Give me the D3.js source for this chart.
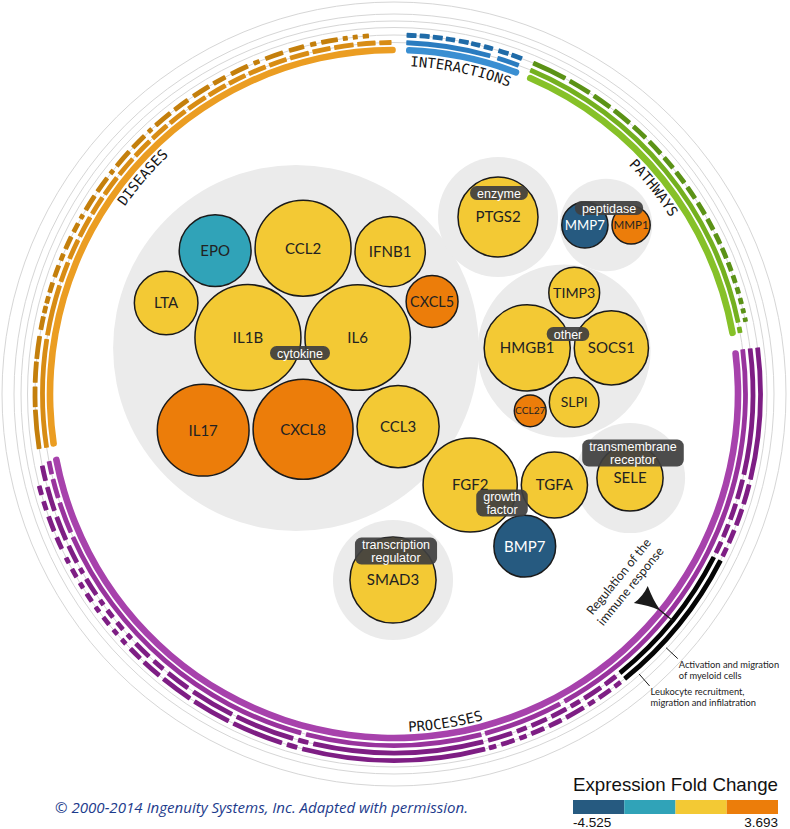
<!DOCTYPE html>
<html>
<head>
<meta charset="utf-8">
<title>Ingenuity overview</title>
<script src="https://cdn.jsdelivr.net/npm/d3@7"></script>
<style>
  body { margin: 0; background: #fff; }
  svg { display: block; }
</style>
</head>
<body>
<svg id="chart" width="790" height="829"></svg>
<script>
// categories round the ring, span in degrees clockwise from 12 o'clock
const categories = ["INTERACTIONS", "PATHWAYS", "PROCESSES", "DISEASES"];
const categorySpan = [[2, 21.3], [22.8, 80.3], [82.7, 259.5], [261.2, 360.3]];

// one list of [start, end] segments per track, innermost track first
const interactionTracks = [
    [[2, 21.3]],
    [[2, 15.9], [17.1, 20.8]],
    [[2, 3.6], [4.1, 5.7], [6.2, 7.8], [8.3, 9.8], [10.4, 12], [12.4, 13.9], [14.5, 16], [16.9, 18.6], [19.1, 20.9]]
];
const pathwayTracks = [
    [[22.8, 80.3]],
    [[22.8, 78.3], [79, 80]],
    [[22.8, 28.5], [29.3, 33], [33.8, 37], [37.8, 41], [41.8, 44.5], [45.3, 48], [48.8, 51], [51.8, 54], [54.8, 57],
     [57.8, 60], [60.8, 62.8], [63.5, 65.3], [66, 67.8], [68.5, 70], [70.7, 72], [72.7, 73.8], [74.5, 75.5], [76.2, 77], [77.7, 78.4]]
];
const processTracks = [
    [[82.7, 259.5]],
    [[82.7, 151], [151.8, 165], [165.6, 194.5], [195.3, 246], [246.8, 252], [252.8, 256], [256.8, 259]],
    [[82.7, 103], [103.8, 107], [107.8, 110.5], [111.3, 113.5], [114.3, 116.3], [141.8, 144], [144.8, 148], [148.8, 150.5],
     [151.3, 154], [154.8, 157.5], [158.3, 160], [160.8, 164.8], [165.6, 193], [193.8, 195.5], [196.3, 206], [206.8, 214],
     [215, 219], [220, 222], [223, 226], [227, 228], [229, 230.5], [231.5, 233], [234, 235], [236, 239], [240, 241],
     [242, 245], [246, 250], [251, 255], [256, 258.5]],
    [[82.7, 103.5], [104.3, 107.5], [108.3, 111], [111.8, 114], [114.8, 116.3], [141.8, 143], [143.8, 146], [146.8, 148],
     [148.8, 152], [152.8, 155], [155.8, 158], [158.8, 160], [160.8, 163], [163.8, 165], [165.6, 194.5], [195.3, 197],
     [197.8, 206], [206.8, 213], [213.8, 219], [219.8, 223], [223.8, 226], [227, 228], [229, 230], [231, 232.5],
     [233.5, 234.5], [235.5, 237], [238, 239], [240, 241.5], [242.5, 243.5], [245, 247], [248, 250.5], [251.5, 253], [254, 255.5]]
];
const diseaseTracks = [
    [[261.2, 360.3]],
    [[261.2, 279], [279.6, 288], [288.6, 292], [292.6, 296], [296.6, 300.2], [300.8, 304], [304.6, 308], [308.6, 312],
     [312.6, 316], [316.6, 319.8], [320.4, 323.6], [324.2, 327.6], [328.2, 331.4], [332, 335], [335.6, 338.6],
     [339.2, 342.2], [342.8, 346], [346.6, 349.6], [350.2, 353.4], [354, 357], [357.6, 359.6]],
    [[261.2, 267.5], [267.9, 271.2], [271.8, 275.2], [275.6, 279.3], [280.3, 282.5], [283, 284.2], [284.6, 285.8],
     [286.4, 288.1], [289, 291], [291.8, 293], [293.8, 296], [296.8, 298.4], [299.2, 300], [300.8, 303.5], [304.3, 307],
     [307.8, 308.6], [309.4, 312.5], [313.3, 316], [316.8, 317.6], [318.4, 321.5], [322.3, 325], [326, 329], [329.8, 332],
     [333, 336], [337, 338], [339, 342], [343, 345.5], [346.5, 347.5], [348.3, 351], [351.8, 352.6], [353.4, 354.2], [355, 356]]
];

// processes picked out in black: track index and span
const highlightTrack = [2, 3];
const highlightSpan = [[117, 141], [117, 141]];

const annotationText = [
    ["Regulation of the", "immune response"],
    ["Activation and migration", "of myeloid cells"],
    ["Leukocyte recruitment,", "migration and infilatration"]
];
const annotationAngle = [129.1, 133, 138.8];

// molecules
const groupNames = ["cytokine", "other", "growth factor", "enzyme", "transcription regulator", "transmembrane receptor", "peptidase"];
const groupLabels = [["cytokine"], ["other"], ["growth", "factor"], ["enzyme"], ["transcription", "regulator"], ["transmembrane", "receptor"], ["peptidase"]];
const genes = ["IL1B", "IL6", "CXCL8", "CCL2", "EPO", "IFNB1", "IL17", "CCL3", "LTA", "CXCL5",
               "HMGB1", "SOCS1", "SLPI", "TIMP3", "CCL27",
               "FGF2", "TGFA", "BMP7",
               "PTGS2", "SMAD3", "SELE", "MMP7", "MMP1"];
const geneGroup = ["cytokine", "cytokine", "cytokine", "cytokine", "cytokine", "cytokine", "cytokine", "cytokine", "cytokine", "cytokine",
                   "other", "other", "other", "other", "other",
                   "growth factor", "growth factor", "growth factor",
                   "enzyme", "transcription regulator", "transmembrane receptor", "peptidase", "peptidase"];
const geneSize = [100, 99, 89, 82, 46, 44, 75, 60, 36, 24,
                  66, 49, 22, 23, 9,
                  79, 39, 34,
                  57, 66, 39, 19, 13];
const geneFold = [1.2, 1.4, 3.693, 1.1, -1.4, 0.6, 2.6, 0.9, 0.5, 2.3,
                  0.8, 1.0, 0.7, 0.4, 2.0,
                  1.1, 0.6, -4.525,
                  1.3, 0.5, 0.9, -3.1, 2.1];

const legendDomain = [-4.525, 3.693];
const legendTitle = "Expression Fold Change";
const credit = "\u00a9 2000-2014 Ingenuity Systems, Inc. Adapted with permission.";

// ---- layout / style ----
const cx = 394, cy = 394;
const trackRadius = [344, 351.5, 359, 366.5];
const trackWidth = [6.6, 4.8, 4.8, 4.8];
const guideRadius = [351.5, 359, 366.5, 373, 380, 392];
const trackColors = [
    ["#3a8fd2", "#2a7cc0", "#1f6ba8"],
    ["#86c128", "#74b01f", "#5b9216"],
    ["#a742ac", "#98339d", "#7e1e84", "#7e1e84"],
    ["#eb9d22", "#d88c14", "#c47f0c"]
];
const legendColors = ["#265a80", "#30a3b8", "#f3c934", "#ec7d0a"];
// where each group sits, how much grey margin it gets, where its tag goes
const groupAnchor = [[296, 348], [564, 351], [505, 497], [498, 217], [393, 580], [630, 478], [606, 225]];
const groupPad = [11, 0, 0, 18, 15, 20, 0];
const labelOffset = [[4, 5], [4, -17], [-3, 6], [1, -24], [3, -29], [3, -25], [3, -17]];
const hiddenGroups = ["growth factor"];

const svg = d3.select("#chart");
const defs = svg.append("defs");
const angle = d3.scaleLinear().domain([0, 360]).range([0, 2 * Math.PI]);
const arc = d3.arc().cornerRadius(d => d.corner);

function polar(deg, r) {
    const a = angle(deg);
    return [cx + r * Math.sin(a), cy - r * Math.cos(a)];
}

// grey guide rings
svg.append("g").selectAll("circle")
    .data(guideRadius)
    .join("circle")
    .attr("cx", cx).attr("cy", cy).attr("r", d => d)
    .attr("fill", "none").attr("stroke", "#d6d6d6").attr("stroke-width", 1);

const ring = svg.append("g").attr("transform", `translate(${cx},${cy})`);

function drawTracks(tracks, colors) {
    tracks.forEach(function (segs, ti) {
        ring.append("g").selectAll("path")
            .data(segs)
            .join("path")
            .attr("d", d => arc({
                innerRadius: trackRadius[ti] - trackWidth[ti] / 2,
                outerRadius: trackRadius[ti] + trackWidth[ti] / 2,
                startAngle: angle(d[0]),
                endAngle: angle(d[1]),
                corner: ti === 0 ? 3 : 0.6
            }))
            .attr("fill", colors[ti]);
    });
}

drawTracks(interactionTracks, trackColors[0]);
drawTracks(pathwayTracks, trackColors[1]);
drawTracks(processTracks, trackColors[2]);
drawTracks(diseaseTracks, trackColors[3]);

// black highlighted processes
highlightTrack.forEach(function (ti, i) {
    ring.append("path")
        .attr("d", arc({
            innerRadius: trackRadius[ti] - trackWidth[ti] / 2,
            outerRadius: trackRadius[ti] + trackWidth[ti] / 2,
            startAngle: angle(highlightSpan[i][0]),
            endAngle: angle(highlightSpan[i][1]),
            corner: 0.6
        }))
        .attr("fill", "#050505");
});

// category names written along the ring
categories.forEach(function (name, i) {
    const mid = (categorySpan[i][0] + categorySpan[i][1]) / 2;
    const bottom = mid > 100 && mid < 260;
    const r = bottom ? 338 : 328;
    let a0 = mid - 40, a1 = mid + 40;
    if (bottom) { a0 = mid + 40; a1 = mid - 40; }
    const p = d3.path();
    const s = angle(a0) - Math.PI / 2, e = angle(a1) - Math.PI / 2;
    p.moveTo(cx + r * Math.cos(s), cy + r * Math.sin(s));
    p.arc(cx, cy, r, s, e, bottom);
    defs.append("path").attr("id", "cat" + i).attr("d", p.toString());
    svg.append("text")
        .attr("font-family", "DejaVu Sans Mono")
        .attr("font-size", 14)
        .attr("fill", "#151515")
        .append("textPath")
        .attr("href", "#cat" + i)
        .attr("startOffset", "50%")
        .attr("text-anchor", "middle")
        .text(name);
});

// annotation: funnel marker pointing at the highlighted process
const funnel = svg.append("g")
    .attr("transform", `translate(${cx},${cy}) rotate(${annotationAngle[0] - 90})`);
funnel.append("path")
    .attr("d", "M318,-11 Q321,0 318,11 Q332,3 341,0.8 L341,-0.8 Q332,-3 318,-11 Z")
    .attr("fill", "#1a1a1a");
funnel.append("line")
    .attr("x1", 340).attr("x2", trackRadius[2]).attr("y1", 0).attr("y2", 0)
    .attr("stroke", "#1a1a1a").attr("stroke-width", 1.2);
const funnelText = funnel.append("g")
    .attr("transform", "translate(298,0) rotate(-90)")
    .append("text")
    .attr("font-family", "Lato")
    .attr("font-size", 12.5)
    .attr("fill", "#222")
    .attr("text-anchor", "middle");
annotationText[0].forEach(function (line, j) {
    funnelText.append("tspan").attr("x", 0).attr("y", j === 0 ? -4 : 11).text(line);
});

// leader lines for the two highlighted processes
[1, 2].forEach(function (k) {
    const p0 = polar(annotationAngle[k], 372);
    const p1 = polar(annotationAngle[k], 388);
    svg.append("line")
        .attr("x1", p0[0]).attr("y1", p0[1]).attr("x2", p1[0]).attr("y2", p1[1])
        .attr("stroke", "#1a1a1a").attr("stroke-width", 1);
    const t = svg.append("text")
        .attr("font-family", "Lato")
        .attr("font-size", 9.3)
        .attr("fill", "#222");
    annotationText[k].forEach(function (line, j) {
        t.append("tspan").attr("x", p1[0] + 1).attr("y", p1[1] + 9 + j * 11.5).text(line);
    });
});

// ---- molecule bubbles, packed with d3 inside each group ----
const rScale = d3.scaleSqrt().domain([0, d3.max(geneSize)]).range([0, 53]);
const color = d3.scaleQuantize().domain(legendDomain).range(legendColors);
const childPad = 2;

const groupLayout = groupNames.map(function (g, gi) {
    const kids = genes.map((name, i) => ({ name: name, i: i, r: rScale(geneSize[i]) + childPad }))
        .filter(d => geneGroup[d.i] === g);
    d3.packSiblings(kids);
    const enc = d3.packEnclose(kids);
    kids.forEach(function (k) { k.x -= enc.x; k.y -= enc.y; k.r -= childPad; });
    return { name: g, gi: gi, kids: kids, x: groupAnchor[gi][0], y: groupAnchor[gi][1], r: enc.r + groupPad[gi] };
});

const bubbles = svg.append("g");
bubbles.selectAll("circle.group")
    .data(groupLayout.filter(g => hiddenGroups.indexOf(g.name) < 0))
    .join("circle")
    .attr("class", "group")
    .attr("cx", d => d.x).attr("cy", d => d.y).attr("r", d => d.r)
    .attr("fill", "#ebebeb");

const nodes = [];
groupLayout.forEach(g => g.kids.forEach(k => nodes.push({ name: k.name, i: k.i, x: g.x + k.x, y: g.y + k.y, r: k.r })));

bubbles.selectAll("circle.gene")
    .data(nodes)
    .join("circle")
    .attr("class", "gene")
    .attr("cx", d => d.x).attr("cy", d => d.y).attr("r", d => d.r)
    .attr("fill", d => color(geneFold[d.i]))
    .attr("stroke", "#1a1a1a").attr("stroke-width", 1.5);

bubbles.selectAll("text.gene")
    .data(nodes)
    .join("text")
    .attr("class", "gene")
    .attr("x", d => d.x).attr("y", d => d.y)
    .attr("dy", "0.36em")
    .attr("text-anchor", "middle")
    .attr("font-family", "Lato")
    .attr("font-size", d => Math.min(15, 3.5 + d.r * 0.42))
    .attr("fill", d => color(geneFold[d.i]) === legendColors[0] ? "#fff" : "#222")
    .text(d => d.name);

// group name tags
groupLayout.forEach(function (g) {
    const lines = groupLabels[g.gi];
    const tag = bubbles.append("g")
        .attr("transform", `translate(${g.x + labelOffset[g.gi][0]},${g.y + labelOffset[g.gi][1]})`);
    const rect = tag.append("rect");
    const txt = tag.append("text")
        .attr("text-anchor", "middle")
        .attr("font-family", "Liberation Sans, Arial, sans-serif")
        .attr("font-size", 12.5)
        .attr("fill", "#fff");
    lines.forEach(function (line, j) {
        txt.append("tspan").attr("x", 0).attr("y", (j - (lines.length - 1) / 2) * 13 + 4.5).text(line);
    });
    const w = d3.max(txt.selectAll("tspan").nodes(), n => n.getComputedTextLength()) + 14;
    const h = lines.length * 13 + 1;
    rect.attr("x", -w / 2).attr("y", -h / 2).attr("width", w).attr("height", h)
        .attr("rx", 6.5).attr("fill", "#3f3f3f").attr("opacity", 0.93);
});

// ---- legend ----
const legendX = d3.scaleLinear().domain([0, legendColors.length]).range([573, 778]);
const legend = svg.append("g");
legend.append("text")
    .attr("x", 573).attr("y", 791)
    .attr("font-family", "Liberation Sans, Arial, sans-serif")
    .attr("font-size", 19)
    .attr("fill", "#111")
    .attr("textLength", 205)
    .attr("lengthAdjust", "spacingAndGlyphs")
    .text(legendTitle);
legend.selectAll("rect")
    .data(legendColors)
    .join("rect")
    .attr("x", (d, i) => legendX(i)).attr("y", 800)
    .attr("width", (d, i) => legendX(i + 1) - legendX(i)).attr("height", 14)
    .attr("fill", d => d);
legend.append("text")
    .attr("x", 573).attr("y", 827)
    .attr("font-family", "Liberation Sans, Arial, sans-serif")
    .attr("font-size", 13.5).attr("fill", "#111")
    .text(legendDomain[0].toFixed(3));
legend.append("text")
    .attr("x", 778).attr("y", 827)
    .attr("text-anchor", "end")
    .attr("font-family", "Liberation Sans, Arial, sans-serif")
    .attr("font-size", 13.5).attr("fill", "#111")
    .text(legendDomain[1].toFixed(3));

svg.append("text")
    .attr("x", 55).attr("y", 813)
    .attr("font-family", "Open Sans")
    .attr("font-style", "italic")
    .attr("font-size", 15)
    .attr("fill", "#1d3b8c")
    .attr("textLength", 413)
    .attr("lengthAdjust", "spacingAndGlyphs")
    .text(credit);
</script>
</body>
</html>
